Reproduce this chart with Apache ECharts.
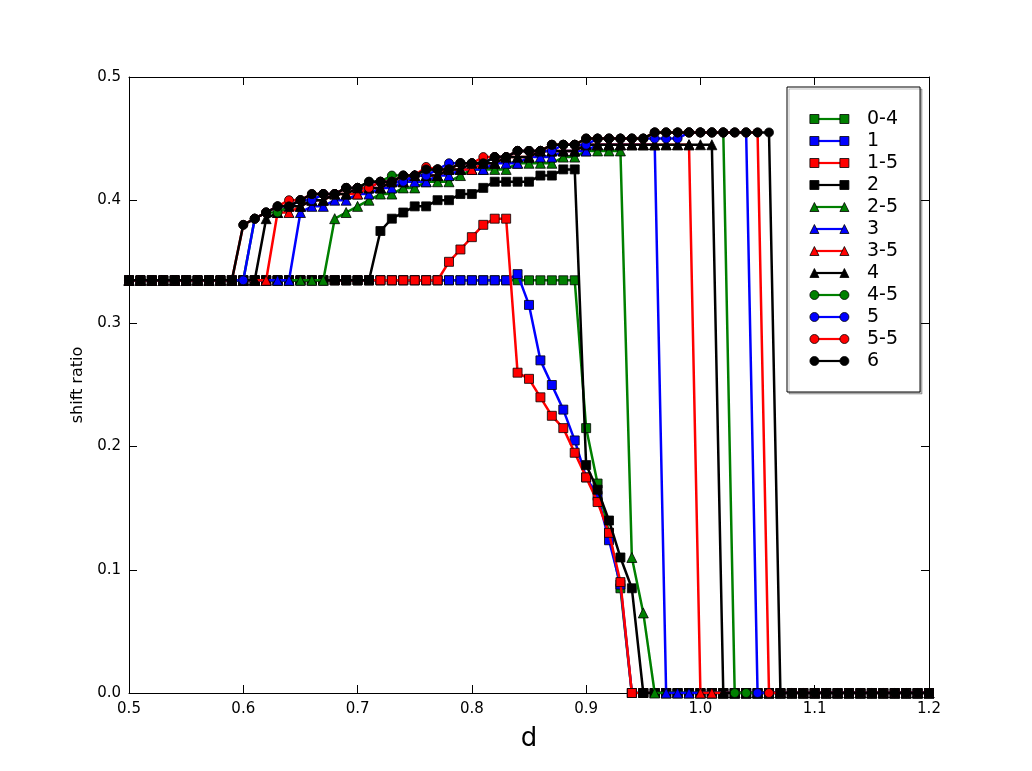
<!DOCTYPE html>
<html><head><meta charset="utf-8">
<script src="https://cdn.jsdelivr.net/npm/echarts@6/dist/echarts.min.js"></script>
<style>html,body{margin:0;padding:0;background:#fff}#c{width:1032px;height:771px}</style>
</head><body><div id="c"></div>
<script>
// x values (d)
const xs = [0.50,0.51,0.52,0.53,0.54,0.55,0.56,0.57,0.58,0.59,
            0.60,0.61,0.62,0.63,0.64,0.65,0.66,0.67,0.68,0.69,
            0.70,0.71,0.72,0.73,0.74,0.75,0.76,0.77,0.78,0.79,
            0.80,0.81,0.82,0.83,0.84,0.85,0.86,0.87,0.88,0.89,
            0.90,0.91,0.92,0.93,0.94,0.95,0.96,0.97,0.98,0.99,
            1.00,1.01,1.02,1.03,1.04,1.05,1.06,1.07,1.08,1.09,
            1.10,1.11,1.12,1.13,1.14,1.15,1.16,1.17,1.18,1.19,
            1.20];
const xTickLabels = ['0.5','0.6','0.7','0.8','0.9','1.0','1.1','1.2'];
const yTickLabels = ['0.0','0.1','0.2','0.3','0.4','0.5'];
const seriesNames = ['0-4','1','1-5','2','2-5','3','3-5','4','4-5','5','5-5','6'];

const s04 = [0.335,0.335,0.335,0.335,0.335,0.335,0.335,0.335,0.335,0.335,
             0.335,0.335,0.335,0.335,0.335,0.335,0.335,0.335,0.335,0.335,
             0.335,0.335,0.335,0.335,0.335,0.335,0.335,0.335,0.335,0.335,
             0.335,0.335,0.335,0.335,0.335,0.335,0.335,0.335,0.335,0.335,
             0.215,0.17,0.13,0.085,0,0,0,0,0,0,
             0,0,0,0,0,0,0,0,0,0,
             0,0,0,0,0,0,0,0,0,0,
             0];
const s1 = [0.335,0.335,0.335,0.335,0.335,0.335,0.335,0.335,0.335,0.335,
            0.335,0.335,0.335,0.335,0.335,0.335,0.335,0.335,0.335,0.335,
            0.335,0.335,0.335,0.335,0.335,0.335,0.335,0.335,0.335,0.335,
            0.335,0.335,0.335,0.335,0.34,0.315,0.27,0.25,0.23,0.205,
            0.175,0.16,0.124,0.088,0,0,0,0,0,0,
            0,0,0,0,0,0,0,0,0,0,
            0,0,0,0,0,0,0,0,0,0,
            0];
const s15 = [0.335,0.335,0.335,0.335,0.335,0.335,0.335,0.335,0.335,0.335,
             0.335,0.335,0.335,0.335,0.335,0.335,0.335,0.335,0.335,0.335,
             0.335,0.335,0.335,0.335,0.335,0.335,0.335,0.335,0.35,0.36,
             0.37,0.38,0.385,0.385,0.26,0.255,0.24,0.225,0.215,0.195,
             0.175,0.155,0.13,0.09,0,0,0,0,0,0,
             0,0,0,0,0,0,0,0,0,0,
             0,0,0,0,0,0,0,0,0,0,
             0];
const s2 = [0.335,0.335,0.335,0.335,0.335,0.335,0.335,0.335,0.335,0.335,
            0.335,0.335,0.335,0.335,0.335,0.335,0.335,0.335,0.335,0.335,
            0.335,0.335,0.375,0.385,0.39,0.395,0.395,0.40,0.40,0.405,
            0.405,0.41,0.415,0.415,0.415,0.415,0.42,0.42,0.425,0.425,
            0.185,0.165,0.14,0.11,0.085,0,0,0,0,0,
            0,0,0,0,0,0,0,0,0,0,
            0,0,0,0,0,0,0,0,0,0,
            0];
const s25 = [0.335,0.335,0.335,0.335,0.335,0.335,0.335,0.335,0.335,0.335,
             0.335,0.335,0.335,0.335,0.335,0.335,0.335,0.335,0.385,0.39,
             0.395,0.40,0.405,0.405,0.41,0.41,0.415,0.415,0.415,0.42,
             0.425,0.425,0.425,0.425,0.43,0.43,0.43,0.43,0.435,0.435,
             0.44,0.44,0.44,0.44,0.11,0.065,0,0,0,0,
             0,0,0,0,0,0,0,0,0,0,
             0,0,0,0,0,0,0,0,0,0,
             0];
const s3 = [0.335,0.335,0.335,0.335,0.335,0.335,0.335,0.335,0.335,0.335,
            0.335,0.335,0.335,0.335,0.335,0.39,0.395,0.395,0.40,0.40,
            0.405,0.405,0.41,0.41,0.415,0.415,0.415,0.42,0.42,0.425,
            0.425,0.425,0.43,0.43,0.43,0.435,0.435,0.435,0.44,0.44,
            0.44,0.445,0.445,0.445,0.445,0.445,0.445,0,0,0,
            0,0,0,0,0,0,0,0,0,0,
            0,0,0,0,0,0,0,0,0,0,
            0];
const s35 = [0.335,0.335,0.335,0.335,0.335,0.335,0.335,0.335,0.335,0.335,
             0.335,0.335,0.335,0.39,0.39,0.395,0.40,0.40,0.405,0.405,
             0.405,0.41,0.41,0.415,0.415,0.42,0.42,0.42,0.425,0.425,
             0.425,0.43,0.43,0.435,0.435,0.435,0.44,0.44,0.44,0.44,
             0.445,0.445,0.445,0.445,0.445,0.445,0.445,0.445,0.445,0.445,
             0,0,0,0,0,0,0,0,0,0,
             0,0,0,0,0,0,0,0,0,0,
             0];
const s4 = [0.335,0.335,0.335,0.335,0.335,0.335,0.335,0.335,0.335,0.335,
            0.335,0.335,0.385,0.39,0.395,0.395,0.40,0.40,0.405,0.405,
            0.41,0.41,0.41,0.415,0.415,0.42,0.42,0.42,0.425,0.425,
            0.43,0.43,0.43,0.435,0.435,0.435,0.44,0.44,0.44,0.44,
            0.445,0.445,0.445,0.445,0.445,0.445,0.445,0.445,0.445,0.445,
            0.445,0.445,0,0,0,0,0,0,0,0,
            0,0,0,0,0,0,0,0,0,0,
            0];
const s45 = [0.335,0.335,0.335,0.335,0.335,0.335,0.335,0.335,0.335,0.335,
             0.335,0.385,0.39,0.39,0.395,0.40,0.40,0.405,0.405,0.41,
             0.41,0.415,0.415,0.42,0.42,0.42,0.425,0.425,0.425,0.43,
             0.43,0.43,0.435,0.435,0.44,0.44,0.44,0.445,0.445,0.445,
             0.45,0.45,0.45,0.45,0.45,0.45,0.455,0.455,0.455,0.455,
             0.455,0.455,0.455,0,0,0,0,0,0,0,
             0,0,0,0,0,0,0,0,0,0,
             0];
const s5 = [0.335,0.335,0.335,0.335,0.335,0.335,0.335,0.335,0.335,0.335,
            0.335,0.385,0.39,0.395,0.395,0.40,0.40,0.405,0.405,0.41,
            0.41,0.41,0.415,0.415,0.415,0.42,0.42,0.425,0.43,0.43,
            0.43,0.43,0.435,0.435,0.44,0.44,0.44,0.44,0.445,0.445,
            0.445,0.45,0.45,0.45,0.45,0.45,0.45,0.45,0.45,0.455,
            0.455,0.455,0.455,0.455,0.455,0,0,0,0,0,
            0,0,0,0,0,0,0,0,0,0,
            0];
const s55 = [0.335,0.335,0.335,0.335,0.335,0.335,0.335,0.335,0.335,0.335,
             0.38,0.385,0.39,0.395,0.40,0.40,0.405,0.405,0.405,0.41,
             0.41,0.41,0.415,0.415,0.42,0.42,0.427,0.425,0.425,0.43,
             0.43,0.435,0.435,0.435,0.44,0.44,0.44,0.445,0.445,0.445,
             0.45,0.45,0.45,0.45,0.45,0.45,0.455,0.455,0.455,0.455,
             0.455,0.455,0.455,0.455,0.455,0.455,0,0,0,0,
             0,0,0,0,0,0,0,0,0,0,
             0];
const s6 = [0.335,0.335,0.335,0.335,0.335,0.335,0.335,0.335,0.335,0.335,
            0.38,0.385,0.39,0.395,0.395,0.40,0.405,0.405,0.405,0.41,
            0.41,0.415,0.415,0.415,0.42,0.42,0.425,0.425,0.425,0.43,
            0.43,0.43,0.435,0.435,0.44,0.44,0.44,0.445,0.445,0.445,
            0.45,0.45,0.45,0.45,0.45,0.45,0.455,0.455,0.455,0.455,
            0.455,0.455,0.455,0.455,0.455,0.455,0.455,0,0,0,
            0,0,0,0,0,0,0,0,0,0,
            0];

const seriesValues = [s04, s1, s15, s2, s25, s3, s35, s4, s45, s5, s55, s6];
const GREEN = '#008000', BLUE = '#0000ff', RED = '#ff0000', BLACK = '#000000';
const seriesColors = [GREEN, BLUE, RED, BLACK, GREEN, BLUE, RED, BLACK, GREEN, BLUE, RED, BLACK];
const seriesSymbols = ['rect','rect','rect','rect','triangle','triangle','triangle','triangle','circle','circle','circle','circle'];

// legend icons (53 x 10 boxes)
const BOUNDS = 'M0,0L0,0M53,10L53,10';
const lineIcon = 'path://' + BOUNDS + 'M5,3.9L35,3.9L35,6.1L5,6.1Z';
const markerIcons = {
  rect: 'path://' + BOUNDS + 'M0.5,0.5L9.5,0.5L9.5,9.5L0.5,9.5ZM30.5,0.5L39.5,0.5L39.5,9.5L30.5,9.5Z',
  triangle: 'path://' + BOUNDS + 'M5,0.5L9.5,9.5L0.5,9.5ZM35,0.5L39.5,9.5L30.5,9.5Z',
  circle: 'path://' + BOUNDS + 'M0.5,5A4.5,4.5,0,1,1,9.5,5A4.5,4.5,0,1,1,0.5,5ZM30.5,5A4.5,4.5,0,1,1,39.5,5A4.5,4.5,0,1,1,30.5,5Z'
};

const FONT = 'DejaVu Sans';
const chart = echarts.init(document.getElementById('c'), null, {renderer: 'canvas'});

const series = seriesNames.map((name, i) => ({
  name: name,
  type: 'line',
  z: 2 + i,
  data: xs.map((x, j) => [x, seriesValues[i][j]]),
  symbol: seriesSymbols[i],
  symbolSize: seriesSymbols[i] === 'triangle' ? 10 : 9,
  showAllSymbol: true,
  lineStyle: {color: seriesColors[i], width: 2.5},
  itemStyle: {color: seriesColors[i], borderColor: '#000', borderWidth: 0.8},
  emphasis: {disabled: true},
  animation: false
}));

const legendCommon = {
  orient: 'vertical',
  left: 787,
  top: 87,
  padding: [21, 22, 20, 22],
  itemWidth: 53,
  itemHeight: 10,
  itemGap: 0,
  selectedMode: false,
  inactiveColor: '#000'
};

const axisFmtX = v => xTickLabels[Math.round((v - 0.5) / 0.1)];
const axisFmtY = v => yTickLabels[Math.round(v / 0.1)];

const option = {
  backgroundColor: '#ffffff',
  animation: false,
  grid: {left: 129, right: 103, top: 77, bottom: 78, containLabel: false},
  legend: [
    Object.assign({}, legendCommon, {
      z: 20,
      data: seriesNames.map(n => ({name: n, icon: lineIcon})),
      itemStyle: {borderWidth: 0},
      textStyle: {fontFamily: FONT, fontSize: 19, color: '#000', lineHeight: 22},
      backgroundColor: '#ffffff',
      borderColor: '#000',
      borderWidth: 1,
      shadowColor: 'rgba(0,0,0,0.25)',
      shadowBlur: 0,
      shadowOffsetX: 2,
      shadowOffsetY: 2
    }),
    Object.assign({}, legendCommon, {
      z: 21,
      data: seriesNames.map((n, i) => ({name: n, icon: markerIcons[seriesSymbols[i]]})),
      itemStyle: {borderColor: '#000', borderWidth: 0.8},
      textStyle: {fontFamily: FONT, fontSize: 19, color: 'rgba(0,0,0,0)', lineHeight: 22},
      backgroundColor: 'transparent',
      borderWidth: 0
    })
  ],
  xAxis: [{
    type: 'value', min: 0.5, max: 1.2, interval: 0.1, position: 'bottom',
    name: 'd', nameLocation: 'middle', nameGap: 33,
    nameTextStyle: {fontFamily: FONT, fontSize: 26, color: '#000'},
    axisLine: {show: true, onZero: false, lineStyle: {color: '#000', width: 1}},
    axisTick: {show: true, inside: true, length: 8, lineStyle: {color: '#000', width: 1}},
    axisLabel: {formatter: axisFmtX, fontFamily: FONT, fontSize: 15, color: '#000', margin: 9},
    splitLine: {show: false}
  }, {
    type: 'value', min: 0.5, max: 1.2, interval: 0.1, position: 'top',
    axisLine: {show: true, onZero: false, lineStyle: {color: '#000', width: 1}},
    axisTick: {show: true, inside: true, length: 8, lineStyle: {color: '#000', width: 1}},
    axisLabel: {show: false},
    splitLine: {show: false}
  }],
  yAxis: [{
    type: 'value', min: 0, max: 0.5, interval: 0.1, position: 'left',
    name: 'shift ratio', nameLocation: 'middle', nameGap: 37,
    nameTextStyle: {fontFamily: FONT, fontSize: 16, color: '#000'},
    axisLine: {show: true, onZero: false, lineStyle: {color: '#000', width: 1}},
    axisTick: {show: true, inside: true, length: 8, lineStyle: {color: '#000', width: 1}},
    axisLabel: {formatter: axisFmtY, fontFamily: FONT, fontSize: 15, color: '#000', margin: 8},
    splitLine: {show: false}
  }, {
    type: 'value', min: 0, max: 0.5, interval: 0.1, position: 'right',
    axisLine: {show: true, onZero: false, lineStyle: {color: '#000', width: 1}},
    axisTick: {show: true, inside: true, length: 8, lineStyle: {color: '#000', width: 1}},
    axisLabel: {show: false},
    splitLine: {show: false}
  }],
  series: series
};
chart.setOption(option);
</script>
</body></html>
